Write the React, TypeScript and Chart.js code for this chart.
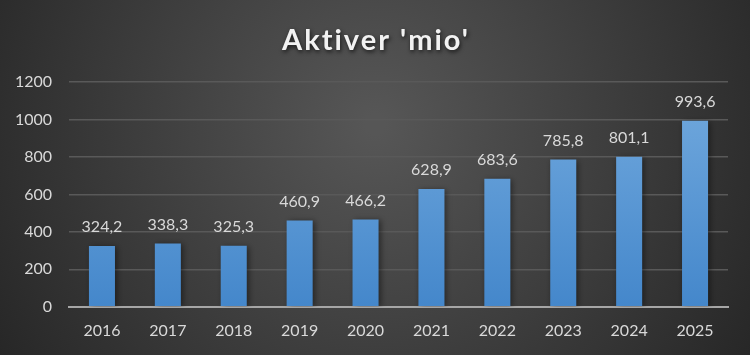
import React, { useEffect, useRef } from "react";
import { Chart, registerables } from "chart.js";

Chart.register(...registerables);

const categories = ["2016", "2017", "2018", "2019", "2020", "2021", "2022", "2023", "2024", "2025"];
const values = [324.2, 338.3, 325.3, 460.9, 466.2, 628.9, 683.6, 785.8, 801.1, 993.6];
const yTicks = [0, 200, 400, 600, 800, 1000, 1200];
const titleText = "Aktiver 'mio'";

const FONT = "Lato, 'Open Sans', sans-serif";

const bgPlugin = {
  id: "bg",
  beforeDraw(chart: any) {
    const { ctx, width, height } = chart;
    ctx.save();
    const g = ctx.createRadialGradient(width / 2, height * 0.35, 10, width / 2, height * 0.35, width * 0.6);
    g.addColorStop(0, "#565656");
    g.addColorStop(1, "#262626");
    ctx.fillStyle = g;
    ctx.fillRect(0, 0, width, height);
    ctx.restore();
  },
};

const titlePlugin = {
  id: "titleShadow",
  afterDraw(chart: any) {
    const { ctx, width } = chart;
    ctx.save();
    ctx.font = `bold 29px ${FONT}`;
    (ctx as any).letterSpacing = "2px";
    ctx.textAlign = "center";
    ctx.textBaseline = "middle";
    ctx.shadowColor = "rgba(0,0,0,0.7)";
    ctx.shadowBlur = 4;
    ctx.shadowOffsetX = 1;
    ctx.shadowOffsetY = 2;
    ctx.fillStyle = "#f2f2f2";
    ctx.fillText(titleText, width / 2 + 1, 41);
    ctx.restore();
  },
};

const labelPlugin = {
  id: "labels",
  afterDatasetsDraw(chart: any) {
    const { ctx } = chart;
    const meta = chart.getDatasetMeta(0);
    ctx.save();
    ctx.font = `16px ${FONT}`;
    ctx.fillStyle = "#d9d9d9";
    ctx.textAlign = "center";
    ctx.textBaseline = "middle";
    meta.data.forEach((bar: any, i: number) => {
      const txt = values[i].toFixed(1).replace(".", ",");
      ctx.fillText(txt, bar.x, bar.y - 19);
    });
    ctx.restore();
  },
};

const shadowPlugin = {
  id: "barShadow",
  beforeDatasetsDraw(chart: any) {
    const ctx = chart.ctx;
    ctx.save();
    ctx.shadowColor = "rgba(0,0,0,0.45)";
    ctx.shadowBlur = 6;
    ctx.shadowOffsetX = 2;
    ctx.shadowOffsetY = 1;
  },
  afterDatasetsDraw(chart: any) {
    chart.ctx.restore();
  },
};

export default function App() {
  const ref = useRef<HTMLCanvasElement>(null);
  useEffect(() => {
    document.body.style.margin = "0";
    const canvas = ref.current!;
    const chart = new Chart(canvas, {
      type: "bar",
      data: {
        labels: categories,
        datasets: [
          {
            data: values,
            backgroundColor: (c: any) => {
              const area = c.chart.chartArea;
              if (!area) return "#5b9bd5";
              const g = c.chart.ctx.createLinearGradient(0, area.top, 0, area.bottom);
              g.addColorStop(0, "#73aade");
              g.addColorStop(1, "#4487cb");
              return g;
            },
            barPercentage: 0.395,
            categoryPercentage: 1,
          },
        ],
      },
      options: {
        animation: false,
        responsive: false,
        maintainAspectRatio: false,
        layout: { padding: { top: 82, right: 22, bottom: 9, left: 0 } },
        plugins: {
          legend: { display: false },
          title: { display: false },
          tooltip: { enabled: false },
        },
        scales: {
          x: {
            grid: { display: false },
            border: { display: true, color: "#a6a6a6", width: 2 },
            ticks: { color: "#d9d9d9", font: { size: 16, family: FONT }, padding: 6 },
          },
          y: {
            min: 0,
            max: 1200,
            afterBuildTicks: (axis: any) => {
              axis.ticks = yTicks.map((v) => ({ value: v }));
            },
            afterFit: (axis: any) => {
              axis.width = 69;
            },
            grid: { color: "#595959", lineWidth: 1.5, drawTicks: false },
            border: { display: false },
            ticks: {
              color: "#d9d9d9",
              font: { size: 16, family: FONT },
              padding: 17,
              callback: (v: any) => String(v),
            },
          },
        },
      },
      plugins: [bgPlugin, shadowPlugin, labelPlugin, titlePlugin],
    });
    return () => chart.destroy();
  }, []);
  return <canvas ref={ref} width={750} height={355} style={{ display: "block", width: 750, height: 355 }} />;
}
